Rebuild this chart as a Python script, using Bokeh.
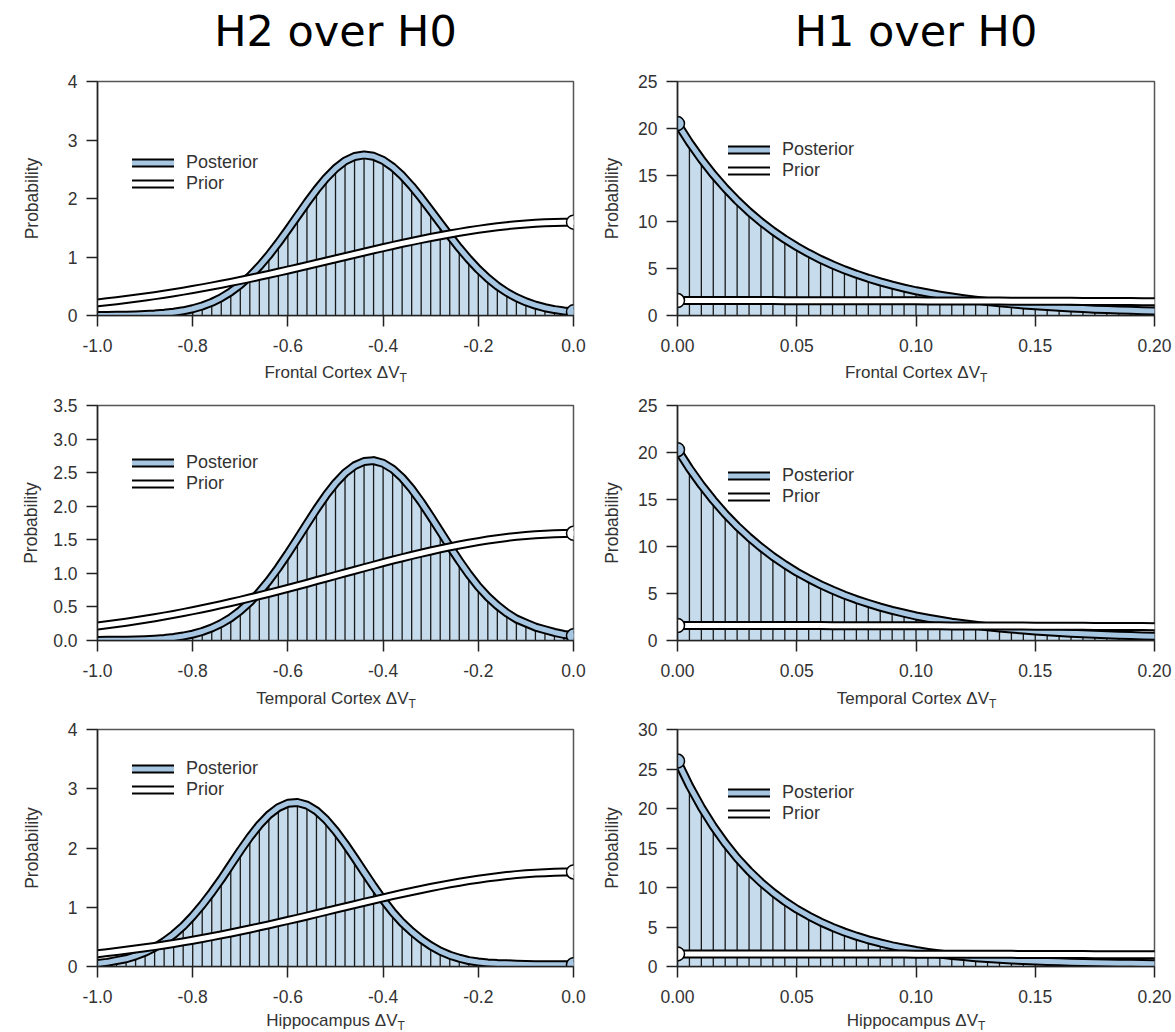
from bokeh.plotting import figure
from bokeh.layouts import column, row
from bokeh.models import Range1d, FixedTicker, Legend, LegendItem
from bokeh.embed import file_html
from bokeh.resources import INLINE
from bokeh.core.properties import value

# ---------------- data ----------------
h2_x = [-1.00, -0.98, -0.96, -0.94, -0.92, -0.90, -0.88, -0.86, -0.84, -0.82,
        -0.80, -0.78, -0.76, -0.74, -0.72, -0.70, -0.68, -0.66, -0.64, -0.62,
        -0.60, -0.58, -0.56, -0.54, -0.52, -0.50, -0.48, -0.46, -0.44, -0.42,
        -0.40, -0.38, -0.36, -0.34, -0.32, -0.30, -0.28, -0.26, -0.24, -0.22,
        -0.20, -0.18, -0.16, -0.14, -0.12, -0.10, -0.08, -0.06, -0.04, -0.02, 0.00]

h2_prior = [0.216, 0.234, 0.253, 0.273, 0.294, 0.316, 0.339, 0.364, 0.389, 0.416,
            0.444, 0.473, 0.503, 0.534, 0.566, 0.599, 0.633, 0.668, 0.703, 0.740,
            0.777, 0.814, 0.852, 0.891, 0.929, 0.968, 1.007, 1.045, 1.084, 1.121,
            1.159, 1.196, 1.232, 1.266, 1.300, 1.333, 1.364, 1.394, 1.422, 1.449,
            1.473, 1.496, 1.516, 1.535, 1.551, 1.564, 1.576, 1.584, 1.591, 1.595, 1.596]

frontal_h2_post = [0.001, 0.002, 0.004, 0.006, 0.010, 0.016, 0.024, 0.037, 0.055, 0.080,
                   0.115, 0.162, 0.224, 0.304, 0.404, 0.526, 0.671, 0.841, 1.032, 1.243,
                   1.468, 1.700, 1.931, 2.150, 2.347, 2.514, 2.640, 2.718, 2.745, 2.721,
                   2.652, 2.539, 2.390, 2.211, 2.010, 1.796, 1.578, 1.362, 1.155, 0.963,
                   0.789, 0.636, 0.505, 0.395, 0.305, 0.233, 0.176, 0.133, 0.101, 0.078, 0.062]

temporal_h2_post = [0.001, 0.002, 0.003, 0.005, 0.008, 0.013, 0.020, 0.030, 0.045, 0.066,
                    0.095, 0.134, 0.186, 0.253, 0.338, 0.444, 0.571, 0.720, 0.892, 1.085,
                    1.294, 1.514, 1.737, 1.957, 2.162, 2.344, 2.494, 2.603, 2.666, 2.679,
                    2.640, 2.554, 2.424, 2.257, 2.062, 1.848, 1.626, 1.403, 1.188, 0.987,
                    0.804, 0.650, 0.520, 0.410, 0.320, 0.260, 0.200, 0.160, 0.120, 0.090, 0.070]

hippocampus_h2_post = [0.050, 0.070, 0.100, 0.130, 0.180, 0.240, 0.320, 0.420, 0.540, 0.680,
                       0.850, 1.040, 1.250, 1.474, 1.717, 1.958, 2.186, 2.390, 2.559, 2.682,
                       2.754, 2.768, 2.725, 2.626, 2.479, 2.291, 2.074, 1.838, 1.595, 1.355,
                       1.127, 0.919, 0.740, 0.590, 0.460, 0.350, 0.260, 0.190, 0.140, 0.100,
                       0.075, 0.060, 0.050, 0.045, 0.040, 0.035, 0.030, 0.030, 0.030, 0.030, 0.030]

h1_x = [0.000, 0.005, 0.010, 0.015, 0.020, 0.025, 0.030, 0.035, 0.040, 0.045,
        0.050, 0.055, 0.060, 0.065, 0.070, 0.075, 0.080, 0.085, 0.090, 0.095,
        0.100, 0.105, 0.110, 0.115, 0.120, 0.125, 0.130, 0.135, 0.140, 0.145,
        0.150, 0.155, 0.160, 0.165, 0.170, 0.175, 0.180, 0.185, 0.190, 0.195, 0.200]

h1_prior = [1.596, 1.596, 1.596, 1.595, 1.595, 1.594, 1.593, 1.592, 1.591, 1.589,
            1.588, 1.586, 1.584, 1.582, 1.580, 1.578, 1.576, 1.573, 1.570, 1.567,
            1.564, 1.561, 1.558, 1.554, 1.551, 1.547, 1.543, 1.539, 1.535, 1.530,
            1.526, 1.521, 1.516, 1.511, 1.506, 1.501, 1.496, 1.490, 1.485, 1.479, 1.473]

frontal_h1_post = [20.50, 18.50, 16.70, 15.07, 13.61, 12.28, 11.08, 10.00, 9.03, 8.15,
                   7.36, 6.64, 5.99, 5.41, 4.88, 4.41, 3.98, 3.59, 3.24, 2.93,
                   2.64, 2.40, 2.18, 1.98, 1.80, 1.64, 1.49, 1.36, 1.24, 1.13,
                   1.03, 0.95, 0.87, 0.80, 0.74, 0.68, 0.63, 0.59, 0.55, 0.51, 0.48]

temporal_h1_post = [20.30, 18.32, 16.54, 14.93, 13.47, 12.16, 10.98, 9.91, 8.94, 8.07,
                    7.28, 6.58, 5.93, 5.36, 4.83, 4.36, 3.94, 3.55, 3.21, 2.90,
                    2.61, 2.37, 2.15, 1.95, 1.78, 1.62, 1.47, 1.34, 1.22, 1.11,
                    1.02, 0.93, 0.85, 0.78, 0.72, 0.66, 0.61, 0.57, 0.53, 0.49, 0.46]

hippocampus_h1_post = [26.00, 22.89, 20.15, 17.74, 15.61, 13.74, 12.10, 10.65, 9.38, 8.25,
                       7.26, 6.40, 5.63, 4.96, 4.36, 3.84, 3.38, 2.98, 2.62, 2.31,
                       2.03, 1.79, 1.58, 1.40, 1.25, 1.12, 1.01, 0.91, 0.83, 0.76,
                       0.70, 0.64, 0.59, 0.55, 0.51, 0.48, 0.45, 0.42, 0.40, 0.38, 0.36]

h2_x_ticks = [-1.0, -0.8, -0.6, -0.4, -0.2, 0.0]
h2_x_tick_labels = ["-1.0", "-0.8", "-0.6", "-0.4", "-0.2", "0.0"]
h1_x_ticks = [0.0, 0.05, 0.10, 0.15, 0.20]
h1_x_tick_labels = ["0.00", "0.05", "0.10", "0.15", "0.20"]

y_ticks_0_4 = [0, 1, 2, 3, 4]
y_labels_0_4 = ["0", "1", "2", "3", "4"]
y_ticks_0_35 = [0.0, 0.5, 1.0, 1.5, 2.0, 2.5, 3.0, 3.5]
y_labels_0_35 = ["0.0", "0.5", "1.0", "1.5", "2.0", "2.5", "3.0", "3.5"]
y_ticks_0_25 = [0, 5, 10, 15, 20, 25]
y_labels_0_25 = ["0", "5", "10", "15", "20", "25"]
y_ticks_0_30 = [0, 5, 10, 15, 20, 25, 30]
y_labels_0_30 = ["0", "5", "10", "15", "20", "25", "30"]

region_names = ["Frontal Cortex \u0394V", "Temporal Cortex \u0394V", "Hippocampus \u0394V"]
subscript = "T"
column_titles = ["H2 over H0", "H1 over H0"]
legend_labels = ["Posterior", "Prior"]

# ---------------- styling / layout ----------------
FONT = "Liberation Sans"
TXT = "#333333"
FILL = "#c6dbeb"
BAND = "#a6c6e2"
AXIS = "#222222"

LW, RW = 590, 585          # column widths
LBORD = (97, 17)           # left column frame: x 97..573
RBORD = (87, 21)           # right column frame: x 677..1154


def base_fig(width, height, x_range, y_range, bl, br, bt, bb, axes=True):
    kw = {}
    if not axes:
        kw = dict(x_axis_type=None, y_axis_type=None)
    p = figure(width=width, height=height,
               x_range=Range1d(*x_range), y_range=Range1d(*y_range),
               output_backend="svg", toolbar_location=None,
               min_border_left=bl, min_border_right=br,
               min_border_top=bt, min_border_bottom=bb, **kw)
    p.background_fill_color = "white"
    p.border_fill_color = "white"
    return p


def header(width, x_range, bl, br, text, height=70, center_from_top=30):
    p = base_fig(width, height, x_range, (0, height), bl, br, 0, 0, axes=False)
    p.outline_line_color = None
    mid = (x_range[0] + x_range[1]) / 2.0
    p.text(x=[mid], y=[height - center_from_top], text=[text], text_align="center",
           text_baseline="middle", text_font=value("DejaVu Sans"),
           text_font_size=value("43px"), text_color="black")
    return p


def x_title_strip(width, x_range, bl, br, text, shift, height, center_from_top):
    p = base_fig(width, height, x_range, (0, height), bl, br, 0, 0, axes=False)
    p.outline_line_color = None
    mid = (x_range[0] + x_range[1]) / 2.0
    yc = height - center_from_top
    p.text(x=[mid], y=[yc], text=[text], text_align="right",
           text_baseline="middle", x_offset=shift, text_font=value(FONT),
           text_font_size=value("17px"), text_color=TXT)
    p.text(x=[mid], y=[yc - 5], text=[subscript], text_align="left",
           text_baseline="middle", x_offset=shift, text_font=value(FONT),
           text_font_size=value("12px"), text_color=TXT)
    return p


def make_panel(xs, post, prior, x_range, y_range, x_ticks, x_tick_labels,
               y_ticks, y_tick_labels, width, height, border, ylabel_standoff,
               legend_loc, null_index):
    bl, br, bt, bb = border
    p = base_fig(width, height, x_range, y_range, bl, br, bt, bb)
    p.xgrid.visible = False
    p.ygrid.visible = False
    p.outline_line_color = "#555555"
    p.outline_line_width = 1.5

    # filled, hatched posterior area
    p.varea(x=xs, y1=0, y2=post, fill_color=FILL, fill_alpha=1.0)
    p.segment(x0=xs, y0=0, x1=xs, y1=post, line_color="#1a1a1a", line_width=1.3)

    # outlined curves
    post_k = p.line(xs, post, line_color="black", line_width=9,
                    line_cap="round", line_join="round")
    post_c = p.line(xs, post, line_color=BAND, line_width=5,
                    line_cap="round", line_join="round")
    prior_k = p.line(xs, prior, line_color="black", line_width=9,
                     line_cap="round", line_join="round")
    prior_c = p.line(xs, prior, line_color="white", line_width=5,
                     line_cap="round", line_join="round")

    # densities at the point null
    p.scatter(x=[xs[null_index]], y=[post[null_index]], size=14,
              fill_color=BAND, line_color="black", line_width=1.5)
    p.scatter(x=[xs[null_index]], y=[prior[null_index]], size=14,
              fill_color="white", line_color="black", line_width=1.5)

    for ax in (p.xaxis, p.yaxis):
        ax.axis_line_color = AXIS
        ax.axis_line_width = 1.5
        ax.major_tick_line_color = AXIS
        ax.major_tick_line_width = 1.5
        ax.major_tick_in = 0
        ax.major_tick_out = 11
        ax.minor_tick_line_color = None
        ax.major_label_text_font = FONT
        ax.major_label_text_font_size = "17.5px"
        ax.major_label_text_color = TXT

    p.xaxis.ticker = FixedTicker(ticks=x_ticks)
    p.xaxis.major_label_overrides = {t: l for t, l in zip(x_ticks, x_tick_labels)}
    p.xaxis.major_label_standoff = 12
    p.yaxis.ticker = FixedTicker(ticks=y_ticks)
    p.yaxis.major_label_overrides = {t: l for t, l in zip(y_ticks, y_tick_labels)}
    p.yaxis.major_label_standoff = 9

    p.yaxis.axis_label = "Probability"
    p.yaxis.axis_label_text_font = FONT
    p.yaxis.axis_label_text_font_size = "17.5px"
    p.yaxis.axis_label_text_font_style = "normal"
    p.yaxis.axis_label_text_color = TXT
    p.yaxis.axis_label_standoff = ylabel_standoff

    legend = Legend(items=[LegendItem(label=legend_labels[0], renderers=[post_k, post_c]),
                           LegendItem(label=legend_labels[1], renderers=[prior_k, prior_c])],
                    location=legend_loc, orientation="vertical",
                    padding=0, margin=0, spacing=0,
                    glyph_width=42, glyph_height=21, label_height=21,
                    label_standoff=12,
                    label_text_font=FONT, label_text_font_size="18px",
                    label_text_color=TXT, label_text_baseline="middle",
                    background_fill_alpha=0, border_line_alpha=0)
    p.add_layout(legend)
    return p


# rows: (figure height, top border, frame height, bottom border)
panel_rows = [(290, 11, 234, 45), (295, 15, 235, 45), (295, 15, 237, 43)]
# x-title strips: (height, text centre from top)
strips = [(30, 12), (29, 13), (23, 11)]
title_shift = [64, 73, 62]

left_data = [frontal_h2_post, temporal_h2_post, hippocampus_h2_post]
right_data = [frontal_h1_post, temporal_h1_post, hippocampus_h1_post]
left_y = [(y_ticks_0_4, y_labels_0_4, (0, 4), 23),
          (y_ticks_0_35, y_labels_0_35, (0, 3.5), 9),
          (y_ticks_0_4, y_labels_0_4, (0, 4), 23)]
right_y = [(y_ticks_0_25, y_labels_0_25, (0, 25)),
           (y_ticks_0_25, y_labels_0_25, (0, 25)),
           (y_ticks_0_30, y_labels_0_30, (0, 30))]
left_legend = [(35, 121.5), (35, 146.5), (35, 166.5)]
right_legend = [(51, 134.5), (51, 133.5), (51, 142.5)]

children = [row(header(LW, (-1, 0), LBORD[0], LBORD[1], column_titles[0]),
                header(RW, (0, 0.2), RBORD[0], RBORD[1], column_titles[1]))]

for i in range(3):
    h, bt, fh, bb = panel_rows[i]
    yt, yl, yr, ystand = left_y[i]
    pl = make_panel(h2_x, left_data[i], h2_prior, (-1, 0), yr, h2_x_ticks, h2_x_tick_labels,
                    yt, yl, LW, h, (LBORD[0], LBORD[1], bt, bb), ystand,
                    left_legend[i], len(h2_x) - 1)
    yt, yl, yr = right_y[i]
    pr = make_panel(h1_x, right_data[i], h1_prior, (0, 0.2), yr, h1_x_ticks, h1_x_tick_labels,
                    yt, yl, RW, h, (RBORD[0], RBORD[1], bt, bb), 13,
                    right_legend[i], 0)
    children.append(row(pl, pr))
    sh, sc = strips[i]
    children.append(row(x_title_strip(LW, (-1, 0), LBORD[0], LBORD[1], region_names[i],
                                      title_shift[i], sh, sc),
                        x_title_strip(RW, (0, 0.2), RBORD[0], RBORD[1], region_names[i],
                                      title_shift[i], sh, sc)))

layout = column(*children)

with open("out.html", "w") as f:
    f.write(file_html(layout, INLINE))
